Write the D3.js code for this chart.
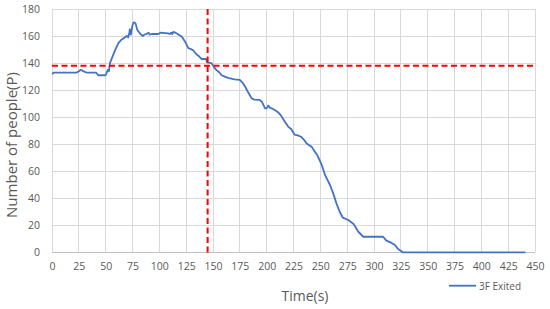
<!DOCTYPE html>
<html><head><meta charset="utf-8">
<script src="https://cdn.jsdelivr.net/npm/d3@7"></script>
<style>
html,body{margin:0;padding:0;background:#fff;}
text{font-family:"Open Sans","Noto Sans",sans-serif;fill:#595959;}
</style></head>
<body><svg id="c" width="550" height="309"></svg>
<script>
const times = [0,2,23,25,27,29,32,41,43,50,51,52,53,54,56,59,62,65,68,69.5,71,72,72.5,73.5,75,76,77,78,79.5,82,84.5,86,88,90,91,93,99,101,108,110,111,112,113,115,117,121,124,127,129,131.5,134.5,137,139.5,143.5,144.5,148.5,151,153,156,158,161,164,166,170,175,178,180,183,186,188,193.5,195.5,198.5,200,201.5,203,206,209,211,213,217,220,223,226,229,232,235,237,240,242,244,247,250,251.3,254.4,257,259,262,265,268,271,276,281,285.4,290,308.5,311.5,316,319.5,322.7,327,441];
const exited = [132,133,133,134,135,134,133,133,131,131,133,135,134,140,144,150,155,157.5,159,160,159,162,165,161,168,170,170,169,164.5,162,160,161,161.5,162.5,161,161.5,161.5,162.5,162,161.5,162.5,161.5,163,162.5,161.5,159.5,155.8,151,150.5,149.5,146.5,145,143,143,140.5,140,137,135,133,131,130,129,128.7,128,127.5,125,122.5,118,114,113,112.7,111.4,106.5,106.5,108.5,107,106,104.5,103.3,101.5,96.6,93,91,87,86.5,85.5,83,80.6,79,78,75.5,72,67,64.6,57.2,53,49.8,43.6,36.2,30,25.6,23.9,20.9,15.2,11.5,11.5,8.6,7.1,5.4,2.2,0,0];
const xTicks = [0,25,50,75,100,125,150,175,200,225,250,275,300,325,350,375,400,425,450];
const yTicks = [0,20,40,60,80,100,120,140,160,180];
const refTime = 145;
const refPeople = 138;
const seriesName = "3F Exited";

const m = {l:52, r:15, t:9, b:56.7};
const W = 550, H = 309;
const svg = d3.select("#c");
const x = d3.scaleLinear().domain([0,450]).range([m.l, W-m.r]);
const y = d3.scaleLinear().domain([0,180]).range([H-m.b, m.t]);

// gridlines
svg.append("g").selectAll("line.v").data(xTicks).join("line")
  .attr("x1",d=>x(d)).attr("x2",d=>x(d)).attr("y1",y(0)).attr("y2",y(180))
  .attr("stroke","#d9d9d9").attr("stroke-width",1).attr("shape-rendering","crispEdges");
svg.append("g").selectAll("line.h").data(yTicks).join("line")
  .attr("x1",x(0)).attr("x2",x(450)).attr("y1",d=>y(d)).attr("y2",d=>y(d))
  .attr("stroke",d=>d===0?"#bfbfbf":"#d9d9d9").attr("stroke-width",1).attr("shape-rendering","crispEdges");

// axes labels
const xa = svg.append("g").attr("transform",`translate(0,${y(0)})`)
  .call(d3.axisBottom(x).tickValues(xTicks).tickSize(0).tickPadding(10));
xa.select(".domain").remove();
xa.selectAll("text").attr("font-size","10.5px").style("fill","#595959").attr("font-family","'Open Sans',sans-serif");
const ya = svg.append("g").attr("transform",`translate(${x(0)},0)`)
  .call(d3.axisLeft(y).tickValues(yTicks).tickSize(0).tickPadding(12));
ya.select(".domain").remove();
ya.selectAll("text").attr("font-size","10.5px").style("fill","#595959").attr("font-family","'Open Sans',sans-serif");

// series
const data = times.map((t,i)=>({t, v:exited[i]}));
svg.append("path").datum(data)
  .attr("fill","none").attr("stroke","#4472C4").attr("stroke-width",1.8).attr("stroke-linejoin","round")
  .attr("d", d3.line().x(d=>x(d.t)).y(d=>y(d.v)));

// reference lines
svg.append("line").attr("x1",x(0)).attr("x2",x(450)).attr("y1",y(refPeople)).attr("y2",y(refPeople))
  .attr("stroke","#ff0000").attr("stroke-width",2).attr("stroke-dasharray","6,3.5");
svg.append("line").attr("x1",x(refTime)).attr("x2",x(refTime)).attr("y1",y(180)).attr("y2",y(0)+1)
  .attr("stroke","#ff0000").attr("stroke-width",2).attr("stroke-dasharray","6,3.5");

// titles
svg.append("text").attr("transform",`translate(17,145) rotate(-90)`)
  .attr("text-anchor","middle").attr("font-size","15px").text("Number of people(P)");
svg.append("text").attr("x",305).attr("y",301).attr("text-anchor","middle").attr("font-size","14px").text("Time(s)");

// legend
svg.append("line").attr("x1",449).attr("x2",476).attr("y1",285.7).attr("y2",285.7)
  .attr("stroke","#4472C4").attr("stroke-width",1.8);
svg.append("text").attr("x",479).attr("y",289.5).attr("font-size","10px").text(seriesName);
</script></body></html>
